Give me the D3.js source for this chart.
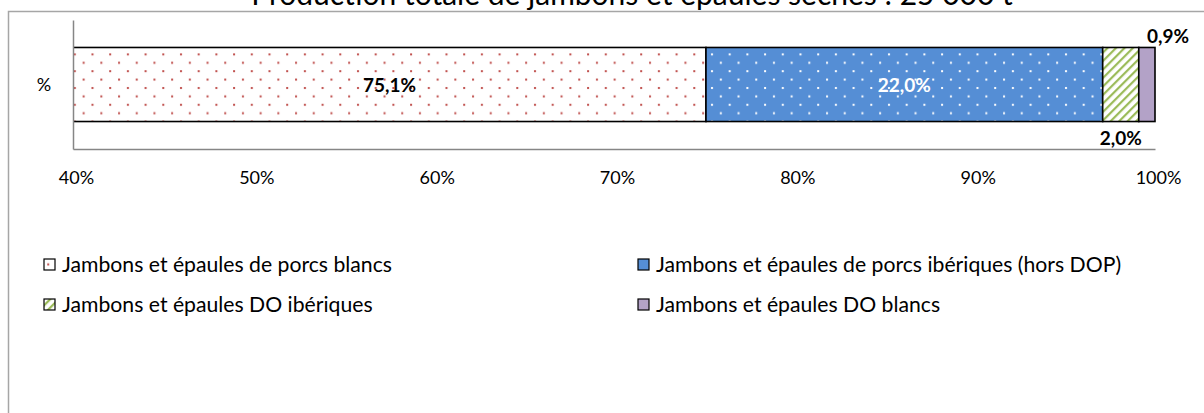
<!DOCTYPE html>
<html><head><meta charset="utf-8">
<script src="https://cdn.jsdelivr.net/npm/d3@7"></script>
<style>body{margin:0;background:#fff} svg{display:block}</style>
</head><body><svg id="c" width="1204" height="413"></svg>
<script>
const title = "Production totale de jambons et épaules séchés : 25 000 t";
const categories = ["%"];
const seriesNames = [
  "Jambons et épaules de porcs blancs",
  "Jambons et épaules de porcs ibériques (hors DOP)",
  "Jambons et épaules DO ibériques",
  "Jambons et épaules DO blancs"
];
const seriesValues = [75.1, 22.0, 2.0, 0.9];
const valueLabels = ["75,1%", "22,0%", "2,0%", "0,9%"];
const tickValues = [40, 50, 60, 70, 80, 90, 100];
const tickLabels = ["40%", "50%", "60%", "70%", "80%", "90%", "100%"];

(function () {
const FONT = "Lato, 'Open Sans', sans-serif";
const svg = d3.select("#c");
const defs = svg.append("defs");

function dotPattern(id, bg, dot) {
  const p = defs.append("pattern").attr("id", id).attr("patternUnits", "userSpaceOnUse")
    .attr("width", 17.7).attr("height", 16.8);
  p.append("rect").attr("width", 17.7).attr("height", 16.8).attr("fill", bg);
  p.append("rect").attr("x", 3).attr("y", 3).attr("width", 2).attr("height", 2).attr("fill", dot);
  p.append("rect").attr("x", 11.85).attr("y", 11.4).attr("width", 2).attr("height", 2).attr("fill", dot);
}
dotPattern("pWhite", "#ffffff", "#c0504d");
dotPattern("pBlue", "#558ed5", "#ffffff");
{
  const p = defs.append("pattern").attr("id", "pGreen").attr("patternUnits", "userSpaceOnUse")
    .attr("width", 6).attr("height", 6).attr("patternTransform", "rotate(45)");
  p.append("rect").attr("width", 6).attr("height", 6).attr("fill", "#ffffff");
  p.append("rect").attr("x", 0).attr("width", 2.2).attr("height", 6).attr("fill", "#9bbb59");
}
const fills = ["url(#pWhite)", "url(#pBlue)", "url(#pGreen)", "#b3a2c7"];

svg.append("path").attr("d", "M8.5,413 V11.5 H1204").attr("fill", "none")
  .attr("stroke", "#a6a6a6").attr("stroke-width", 1.5);

svg.append("text").attr("x", 632).attr("y", 5).attr("text-anchor", "middle")
  .attr("font-family", FONT).attr("font-size", 30).attr("fill", "#000").text(title);

const x = d3.scaleLinear().domain([40, 100]).range([73, 1155]);
const y = d3.scaleBand().domain(categories).range([20, 149]).paddingInner(0.426).paddingOuter(0.213);

defs.append("clipPath").attr("id", "plotClip").append("rect")
  .attr("x", x(40)).attr("y", 0).attr("width", x(100) - x(40) + 2).attr("height", 413);

let acc = 0;
const segs = seriesValues.map((v, i) => { const s = { i, x0: acc, x1: acc + v, v }; acc += v; return s; });

const cat = categories[0];
const g = svg.append("g").attr("clip-path", "url(#plotClip)");
g.selectAll("rect.seg").data(segs).join("rect").attr("class", "seg")
  .attr("x", d => x(Math.max(d.x0, 40)))
  .attr("y", y(cat))
  .attr("width", d => x(d.x1) - x(Math.max(d.x0, 40)))
  .attr("height", y.bandwidth())
  .attr("fill", d => fills[d.i])
  .attr("stroke", "#000").attr("stroke-width", 1.6);

const axisColor = "#868686";
const xAxis = svg.append("g").attr("transform", `translate(0,${y.range()[1]})`)
  .call(d3.axisBottom(x).tickValues(tickValues).tickSize(0).tickFormat((d, i) => tickLabels[i]));
xAxis.select(".domain").attr("stroke", axisColor).attr("stroke-width", 1.5);
xAxis.selectAll("text").attr("font-family", FONT).attr("font-size", 18).attr("fill", "#000")
  .attr("dy", 0).attr("y", 35).attr("dx", 3);

const yAxis = svg.append("g").attr("transform", `translate(${x(40)},0)`)
  .call(d3.axisLeft(y).tickSize(0).tickFormat(() => ""));
yAxis.select(".domain").attr("stroke", axisColor).attr("stroke-width", 1.5);
svg.append("text").attr("x", 44).attr("y", y(cat) + y.bandwidth() / 2 + 6).attr("text-anchor", "middle")
  .attr("font-family", FONT).attr("font-size", 18).text(categories[0]);

const barTop = y(cat), barBot = y(cat) + y.bandwidth(), barMid = barTop + y.bandwidth() / 2;
const lbl = svg.append("g").attr("font-family", FONT).attr("font-size", 19).attr("font-weight", "bold").attr("text-anchor", "middle");
lbl.append("text").attr("x", (x(Math.max(segs[0].x0, 40)) + x(segs[0].x1)) / 2).attr("y", barMid + 7).attr("fill", "#000").text(valueLabels[0]);
lbl.append("text").attr("x", (x(segs[1].x0) + x(segs[1].x1)) / 2).attr("y", barMid + 7).attr("fill", "#fff").text(valueLabels[1]);
lbl.append("text").attr("x", (x(segs[2].x0) + x(segs[2].x1)) / 2).attr("y", barBot + 23).attr("fill", "#000").text(valueLabels[2]);
lbl.append("text").attr("x", x(segs[3].x1) + 13).attr("y", barTop - 4).attr("fill", "#000").text(valueLabels[3]);

const legPos = [[44, 265], [638, 265], [44, 305], [638, 305]];
const leg = svg.append("g");
seriesNames.forEach((name, i) => {
  const [lx, ly] = legPos[i];
  leg.append("rect").attr("x", lx).attr("y", ly - 6).attr("width", 11).attr("height", 11)
    .attr("fill", fills[i]).attr("stroke", "#000").attr("stroke-width", 1.2);
  leg.append("text").attr("x", lx + 18).attr("y", ly + 7).attr("font-family", FONT).attr("font-size", 21.2)
    .attr("fill", "#000").text(name);
});
})();
</script></body></html>
